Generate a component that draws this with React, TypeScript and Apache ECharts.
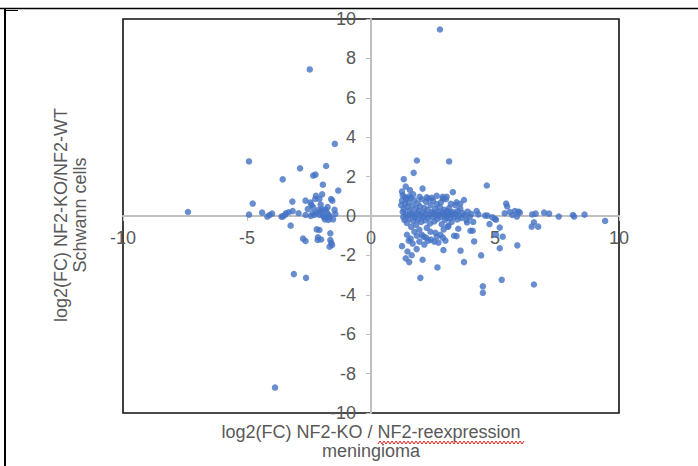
import React, { useEffect, useRef } from "react";
import * as echarts from "echarts";

// log2(FC) NF2-KO / NF2-reexpression (meningioma) vs log2(FC) NF2-KO/NF2-WT (Schwann cells)
const leftPoints: [number, number][] = [
  [-7.38, 0.2], [-2.47, 7.44], [-3.87, -8.71],
  [-1.46, 3.66], [-4.92, 2.77], [-2.86, 2.42], [-1.81, 2.54], [-2.33, 2.05], [-2.24, 2.1],
  [-3.56, 1.86], [-1.94, 1.59], [-1.32, 1.29], [-2.22, 1.03], [-1.97, 1.1], [-2.25, 0.86],
  [-2.08, 0.86], [-4.77, 0.63], [-3.17, 0.73], [-2.64, 0.78], [-2.44, 0.68], [-1.61, 0.86],
  [-1.56, 0.78], [-2.4, 0.56], [-2.33, 0.44], [-2.03, 0.58], [-1.97, 0.34], [-2.01, 0.24],
  [-2.19, 0.17], [-2.29, 0.05], [-1.83, 0.31], [-1.78, 0.17], [-1.94, 0.03], [-1.69, 0.05],
  [-1.67, -0.07], [-1.47, 0.31], [-1.44, 0.1], [-1.53, -0.17], [-1.72, -0.2], [-1.86, -0.17],
  [-2.08, 0.05], [-4.92, 0.07], [-4.39, 0.17], [-4.18, -0.03], [-4.09, 0.05], [-3.99, 0.12],
  [-3.56, -0.03], [-3.43, 0.14], [-3.32, 0.19], [-3.16, 0.25], [-3.61, -0.03], [-3.47, 0.05],
  [-2.92, 0.14], [-2.64, 0.05], [-2.43, 0.0], [-3.24, -0.49], [-2.19, -0.68], [-2.08, -0.71],
  [-2.14, -1.08], [-2.01, -1.19], [-2.15, -1.22], [-1.64, -0.88], [-1.64, -1.22], [-1.6, -1.36],
  [-1.67, -1.56], [-1.57, -1.47], [-2.74, -1.15], [-2.64, -1.27], [-3.11, -2.95], [-2.62, -3.14],
  [-2.55, 0.35], [-2.35, 0.15], [-1.9, -0.05], [-2.12, 0.3], [-1.75, 0.45],
];

const rightPoints: [number, number][] = [
  [2.78, 9.47],
  [1.85, 2.82], [3.15, 2.77], [4.67, 1.55], [1.32, 1.87], [1.72, 2.19], [1.4, 1.49], [1.57, 1.32],
  [2.08, 1.39], [3.3, 1.21], [1.25, 1.24], [3.75, 0.81], [2.89, 0.97], [1.96, 0.97],
  [5.45, 0.63], [5.49, 0.48], [5.8, 0.25], [5.94, 0.22], [6.0, 0.17], [5.88, -0.03], [6.5, 0.08],
  [6.64, 0.12], [6.98, 0.17], [7.18, 0.12], [7.57, -0.03], [8.14, 0.05], [8.19, -0.03], [8.61, 0.07],
  [9.44, -0.25], [6.48, -0.54], [6.57, -0.32], [6.74, -0.54],
  [5.9, -1.49], [6.57, -3.48], [5.27, -3.24], [4.51, -3.57], [4.51, -3.9], [4.44, -2.0],
  [5.19, -0.59], [5.19, -1.64], [5.31, -1.05], [5.0, -0.15], [4.78, -0.41], [5.04, -0.95],
  [4.26, 0.25], [4.33, 0.08], [4.6, 0.02], [4.7, 0.02], [4.9, -0.07], [5.04, -0.19],
  [5.39, 0.14], [5.6, 0.2], [5.7, 0.05],
  [1.99, -3.14], [2.68, -2.61], [3.75, -2.34], [2.08, -2.22], [1.54, -2.34], [1.4, -2.15],
  [1.47, -1.8], [1.25, -1.53], [1.64, -1.99], [1.84, -1.68],
  [2.92, -1.73], [3.61, -1.76], [4.16, -1.29], [3.45, -1.02], [3.35, -1.0], [3.52, -0.65],
  [4.01, -0.75], [4.1, -0.75], [3.87, -0.33], [3.12, -0.49], [2.93, -0.68],
  [1.22, 0.55], [1.25, 0.78], [1.28, 0.2], [1.3, -0.05], [1.32, 0.35], [1.35, -0.2], [1.38, 0.62],
  [1.4, 0.1], [1.42, 0.88], [1.45, -0.35], [1.47, 0.45], [1.5, 0.02], [1.52, 0.7], [1.55, -0.12],
  [1.57, 0.28], [1.6, 0.92], [1.62, -0.55], [1.65, 0.15], [1.67, 0.52], [1.7, -0.25], [1.72, 0.05],
  [1.75, 0.8], [1.78, -0.08], [1.8, 0.38], [1.82, -0.45], [1.85, 0.12], [1.88, 0.65], [1.9, -0.18],
  [1.92, 0.25], [1.95, -0.7], [1.98, 0.48], [2.0, 0.02], [2.02, -0.3], [2.05, 0.85], [2.08, 0.18],
  [2.1, -0.05], [2.12, -1.05], [2.15, 0.4], [2.18, -0.22], [2.2, 0.1], [2.22, 0.72], [2.25, -0.6],
  [2.28, 0.3], [2.3, -0.1], [2.32, 0.88], [2.35, 0.05], [2.38, -0.38], [2.4, 0.55], [2.42, -1.2],
  [2.45, 0.2], [2.48, -0.05], [2.5, 0.78], [2.52, 0.12], [2.55, -0.28], [2.58, 0.35], [2.6, -0.85],
  [2.62, 0.02], [2.65, 0.6], [2.68, -0.15], [2.7, 0.22], [2.72, -1.35], [2.75, 0.08], [2.78, 0.45],
  [2.8, -0.05], [2.82, 0.7], [2.85, -0.42], [2.88, 0.18], [2.9, -1.1], [2.92, 0.05], [2.95, 0.32],
  [2.98, -0.2], [3.0, 0.12], [3.02, 0.85], [3.05, -0.08], [3.08, 0.25], [3.1, -0.55], [3.12, 0.05],
  [3.15, 0.4], [3.18, -0.12], [3.2, 0.15], [3.22, 0.62], [3.25, -0.3], [3.28, 0.08], [3.3, 0.2],
  [3.35, -0.05], [3.4, 0.55], [3.42, 0.12], [3.48, -0.18], [3.5, 0.25], [3.55, 0.02], [3.6, 0.38],
  [3.65, -0.1], [3.7, 0.15], [3.78, 0.05], [3.85, -0.2], [3.9, 0.22], [3.98, -0.05], [4.05, 0.1],
  [4.12, -0.3],
  [1.45, -0.95], [1.52, -1.25], [1.6, -1.15], [1.75, -0.8], [1.85, -1.0], [1.95, -1.3], [2.05, -0.95],
  [2.15, -1.45], [2.3, -1.25], [2.4, -0.8], [2.55, -1.3], [2.65, -1.05], [2.8, -0.95], [3.0, -1.25],
  [2.22, -1.1], [1.68, -1.4],
  [1.28, 1.05], [1.55, 1.0], [1.7, 1.1], [2.25, 0.95], [2.45, 0.92], [2.65, 1.02], [3.05, 0.98],
  [3.45, 0.7], [1.38, 0.95], [2.9, 0.88], [3.6, 0.62],
];

const xTitleLines = ["log2(FC) NF2-KO / NF2-reexpression", "meningioma"];
const yTitleLines = ["log2(FC) NF2-KO/NF2-WT", "Schwann cells"];

const GRID = { left: 123, top: 19, right: 79, bottom: 53 };
const W = 698;
const H = 466;

export default function App() {
  const ref = useRef<HTMLDivElement>(null);
  useEffect(() => {
    if (!ref.current) return;
    const chart = echarts.init(ref.current, undefined, { renderer: "svg" });
    const font = "'Liberation Sans', Arial, sans-serif";
    const grey = "#595959";
    const axisGrey = "#bfbfbf";
    const gridW = W - GRID.left - GRID.right;
    const gridH = H - GRID.top - GRID.bottom;
    // move axes to the centre (zero) of the symmetric [-10, 10] ranges
    const xOffset = -gridH / 2;
    const yOffset = -gridW / 2;
    // red wavy underline (spell-check decoration)
    const wave: number[][] = [];
    for (let x = 378; x <= 525; x += 2) wave.push([x, (x / 2) % 2 === 0 ? 441 : 444]);
    chart.setOption({
      animation: false,
      backgroundColor: "#ffffff",
      grid: {
        ...GRID,
        show: true,
        borderColor: "#111111",
        borderWidth: 1.6,
        backgroundColor: "transparent",
      },
      xAxis: {
        type: "value",
        min: -10,
        max: 10,
        interval: 5,
        position: "bottom",
        offset: xOffset,
        splitLine: { show: false },
        axisLine: { onZero: false, lineStyle: { color: axisGrey, width: 2 } },
        axisTick: { show: true, length: 5, lineStyle: { color: axisGrey, width: 1 } },
        axisLabel: { color: grey, fontSize: 18, fontFamily: font, margin: 13 },
      },
      yAxis: {
        type: "value",
        min: -10,
        max: 10,
        interval: 2,
        position: "left",
        offset: yOffset,
        splitLine: { show: false },
        axisLine: { onZero: false, lineStyle: { color: axisGrey, width: 2 } },
        axisTick: { show: true, length: 5, lineStyle: { color: axisGrey, width: 1 } },
        axisLabel: { color: grey, fontSize: 18, fontFamily: font, margin: 15 },
      },
      series: [
        {
          type: "scatter",
          data: leftPoints,
          symbolSize: 6.5,
          itemStyle: { color: "#4472C4" },
        },
        {
          type: "scatter",
          data: rightPoints,
          symbolSize: 6.5,
          itemStyle: { color: "#4472C4" },
        },
      ],
      graphic: [
        { type: "line", shape: { x1: 0, y1: 8.5, x2: 698, y2: 8.5 }, style: { stroke: "#000", lineWidth: 1.5 } },
        { type: "line", shape: { x1: 5, y1: 9, x2: 5, y2: 466 }, style: { stroke: "#000", lineWidth: 2 } },
        { type: "line", shape: { x1: 5, y1: 10.5, x2: 18, y2: 10.5 }, style: { stroke: "#000", lineWidth: 1 } },
        {
          type: "text",
          x: 371,
          y: 432,
          style: { text: xTitleLines[0], fill: grey, font: `18px ${font}`, textAlign: "center", textVerticalAlign: "middle" },
        },
        {
          type: "text",
          x: 371,
          y: 451,
          style: { text: xTitleLines[1], fill: grey, font: `18px ${font}`, textAlign: "center", textVerticalAlign: "middle" },
        },
        {
          type: "polyline",
          shape: { points: wave },
          style: { stroke: "#e02020", lineWidth: 1, fill: "none" },
        },
        {
          type: "text",
          x: 61,
          y: 215,
          rotation: Math.PI / 2,
          style: { text: yTitleLines[0], fill: grey, font: `18px ${font}`, textAlign: "center", textVerticalAlign: "middle" },
        },
        {
          type: "text",
          x: 80,
          y: 215,
          rotation: Math.PI / 2,
          style: { text: yTitleLines[1], fill: grey, font: `18px ${font}`, textAlign: "center", textVerticalAlign: "middle" },
        },
      ],
    });
    return () => chart.dispose();
  }, []);
  return <div ref={ref} style={{ position: "fixed", left: 0, top: 0, width: W, height: H }} />;
}
